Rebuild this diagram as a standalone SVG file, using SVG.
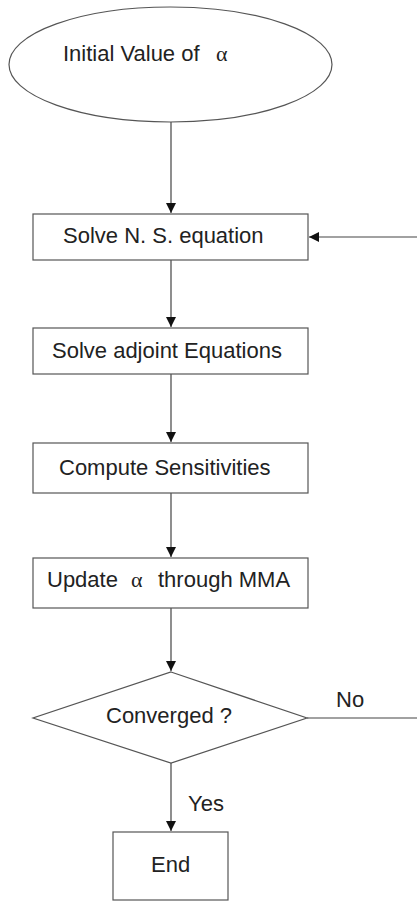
<svg xmlns="http://www.w3.org/2000/svg" width="417" height="902" viewBox="0 0 417 902">
<style>
.s{fill:#fff;stroke:#555;stroke-width:1.2}
.t{font-family:"Liberation Sans",Arial,sans-serif;font-size:22px;fill:#222}
.g{font-family:"Liberation Serif","Times New Roman",serif;font-size:22px;fill:#222}
.c{stroke:#444;stroke-width:1.2;fill:none}
</style>
<defs>
<marker id="a" markerWidth="10" markerHeight="12" refX="10" refY="5" orient="auto" markerUnits="userSpaceOnUse" viewBox="0 0 10 10">
<path d="M0,0 L10,5 L0,10 z" fill="#111"/>
</marker>
</defs>
<rect width="417" height="902" fill="#fff"/>
<g id="connectors">
<line class="c" x1="171" y1="122" x2="171" y2="213" marker-end="url(#a)"/>
<line class="c" x1="417" y1="237" x2="309" y2="237" marker-end="url(#a)"/>
<line class="c" x1="171" y1="260" x2="171" y2="327" marker-end="url(#a)"/>
<line class="c" x1="171" y1="374" x2="171" y2="442" marker-end="url(#a)"/>
<line class="c" x1="171" y1="493" x2="171" y2="557" marker-end="url(#a)"/>
<line class="c" x1="171" y1="608" x2="171" y2="671" marker-end="url(#a)"/>
<line class="c" x1="307" y1="718" x2="417" y2="718"/>
<line class="c" x1="171" y1="763" x2="171" y2="831" marker-end="url(#a)"/>
<text class="t" x="336" y="707">No</text>
<text class="t" x="188" y="811">Yes</text>
</g>
<g id="start">
<ellipse class="s" cx="170.5" cy="64.5" rx="161.5" ry="57.5"/>
<text class="t" x="63" y="61">Initial Value of</text>
<text class="g" x="216" y="61">α</text>
</g>
<g id="ns">
<rect class="s" x="33" y="214" width="275" height="46"/>
<text class="t" x="63" y="243">Solve N. S. equation</text>
</g>
<g id="adjoint">
<rect class="s" x="33" y="328" width="275" height="46"/>
<text class="t" x="52" y="358">Solve adjoint Equations</text>
</g>
<g id="sens">
<rect class="s" x="33" y="443" width="275" height="50"/>
<text class="t" x="59" y="475">Compute Sensitivities</text>
</g>
<g id="update">
<rect class="s" x="33" y="558" width="275" height="50"/>
<text class="t" x="47" y="587">Update</text>
<text class="g" x="131" y="587">α</text>
<text class="t" x="158" y="587">through MMA</text>
</g>
<g id="conv">
<polygon class="s" points="171,672 307,718 171,763 33,718"/>
<text class="t" x="106" y="723">Converged ?</text>
</g>
<g id="end">
<rect class="s" x="113" y="832" width="115" height="68"/>
<text class="t" x="151" y="872">End</text>
</g>
</svg>
